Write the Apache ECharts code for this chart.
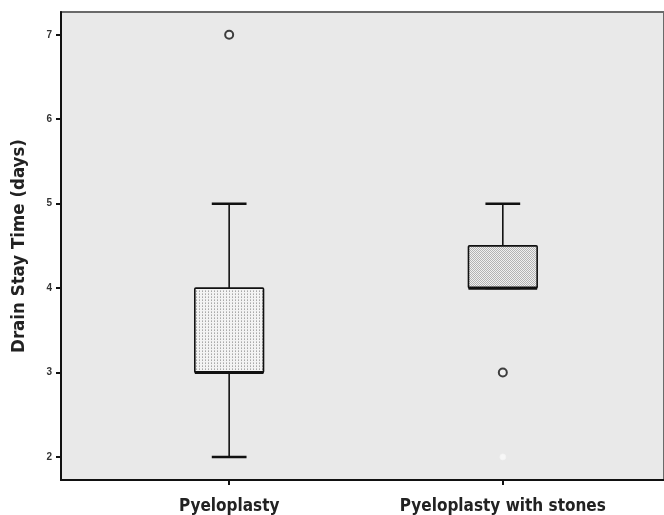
<!DOCTYPE html>
<html>
<head>
<meta charset="utf-8">
<script src="https://cdn.jsdelivr.net/npm/echarts@6/dist/echarts.min.js"></script>
<style>html,body{margin:0;padding:0;background:#fff}#c{width:664px;height:515px}</style>
</head>
<body>
<div id="c"></div>
<script>
const categories = ['Pyeloplasty', 'Pyeloplasty with stones'];
const whiskerLow = [2, 4];
const q1 = [3, 4];
const median = [3, 4];
const q3 = [4, 4.5];
const whiskerHigh = [5, 5];
const outliers = [[0, 7], [1, 3]];
const faintOutliers = [[1, 2]];
const yTicks = [2, 3, 4, 5, 6, 7];
const xTicks = [0, 1];

function makePattern(kind) {
  const c = document.createElement('canvas');
  const ctx = c.getContext('2d');
  if (kind === 0) {
    c.width = 3; c.height = 3;
    ctx.fillStyle = '#f3f3f3'; ctx.fillRect(0, 0, 3, 3);
    ctx.fillStyle = '#a9a9a9'; ctx.fillRect(1, 0, 1, 1);
    ctx.fillStyle = '#c4c4c4'; ctx.fillRect(1, 2, 1, 1);
  } else {
    c.width = 2; c.height = 2;
    ctx.fillStyle = '#f0f0f0'; ctx.fillRect(0, 0, 2, 2);
    ctx.fillStyle = '#b3b3b3'; ctx.fillRect(0, 0, 1, 1); ctx.fillRect(1, 1, 1, 1);
  }
  return c;
}
const patterns = [makePattern(0), makePattern(1)];

const boxData = categories.map((c, i) => [i, whiskerLow[i], q1[i], median[i], q3[i], whiskerHigh[i]]);

const chart = echarts.init(document.getElementById('c'), null, {renderer: 'canvas'});
const labelFont = '"Liberation Sans Narrow", "DejaVu Sans Condensed", "Arial Narrow", sans-serif';

chart.setOption({
  animation: false,
  grid: {
    left: 61, right: -3, top: 12, bottom: 35,
    show: true, backgroundColor: '#e9e9e9', borderColor: '#6a6a6a', borderWidth: 2
  },
  xAxis: {
    type: 'value', min: -0.6145, max: 1.589,
    splitLine: {show: false},
    axisLine: {show: true, onZero: false, lineStyle: {color: '#111', width: 2}},
    axisTick: {show: true, customValues: xTicks, length: 5, lineStyle: {color: '#111', width: 2}},
    axisLabel: {
      customValues: xTicks, margin: 18,
      formatter: v => categories[Math.round(v)] || '',
      fontFamily: labelFont, fontWeight: 'bold', fontSize: 17, color: '#222'
    }
  },
  yAxis: {
    type: 'value', min: 1.727, max: 7.27,
    name: 'Drain Stay Time (days)', nameLocation: 'middle', nameGap: 32,
    nameTextStyle: {fontFamily: labelFont, fontWeight: 'bold', fontSize: 18.5, color: '#222'},
    splitLine: {show: false},
    axisLine: {show: true, onZero: false, lineStyle: {color: '#111', width: 2}},
    axisTick: {show: true, customValues: yTicks, length: 5, lineStyle: {color: '#111', width: 2}},
    axisLabel: {customValues: yTicks, margin: 9, fontSize: 10, fontWeight: 'bold', color: '#333', fontFamily: 'Liberation Sans, Arial, sans-serif'}
  },
  series: [
    {
      type: 'custom',
      data: boxData,
      encode: {x: 0, y: [1, 2, 3, 4, 5]},
      renderItem: function (params, api) {
        const i = api.value(0);
        const lo = api.coord([i, api.value(1)]);
        const pq1 = api.coord([i, api.value(2)]);
        const pmed = api.coord([i, api.value(3)]);
        const pq3 = api.coord([i, api.value(4)]);
        const hi = api.coord([i, api.value(5)]);
        const bw = api.size([0.251, 0])[0];
        const cw = api.size([0.127, 0])[0];
        const x = lo[0];
        return {
          type: 'group',
          children: [
            {type: 'line', shape: {x1: x, y1: hi[1], x2: x, y2: pq3[1]}, style: {stroke: '#111', lineWidth: 1.6}},
            {type: 'line', shape: {x1: x, y1: pq1[1], x2: x, y2: lo[1]}, style: {stroke: '#111', lineWidth: 1.6}},
            {type: 'line', shape: {x1: x - cw / 2, y1: hi[1], x2: x + cw / 2, y2: hi[1]}, style: {stroke: '#111', lineWidth: 2.5}},
            {type: 'line', shape: {x1: x - cw / 2, y1: lo[1], x2: x + cw / 2, y2: lo[1]}, style: {stroke: '#111', lineWidth: 2.5}},
            {type: 'rect', shape: {x: x - bw / 2, y: pq3[1], width: bw, height: pq1[1] - pq3[1], r: 1},
              style: {fill: {image: patterns[i], repeat: 'repeat'}, stroke: '#111', lineWidth: 1.6}},
            {type: 'line', shape: {x1: x - bw / 2, y1: pmed[1], x2: x + bw / 2, y2: pmed[1]}, style: {stroke: '#111', lineWidth: 3.2}}
          ]
        };
      },
      z: 2
    },
    {
      type: 'scatter', data: outliers, symbol: 'circle', symbolSize: 8,
      itemStyle: {color: '#f2f2f2', borderColor: '#111', borderWidth: 2}, z: 3
    },
    {
      type: 'scatter', data: faintOutliers, symbol: 'circle', symbolSize: 6,
      itemStyle: {color: '#fafafa', borderColor: '#f4f4f4', borderWidth: 1}, z: 3
    }
  ]
});
</script>
</body>
</html>
